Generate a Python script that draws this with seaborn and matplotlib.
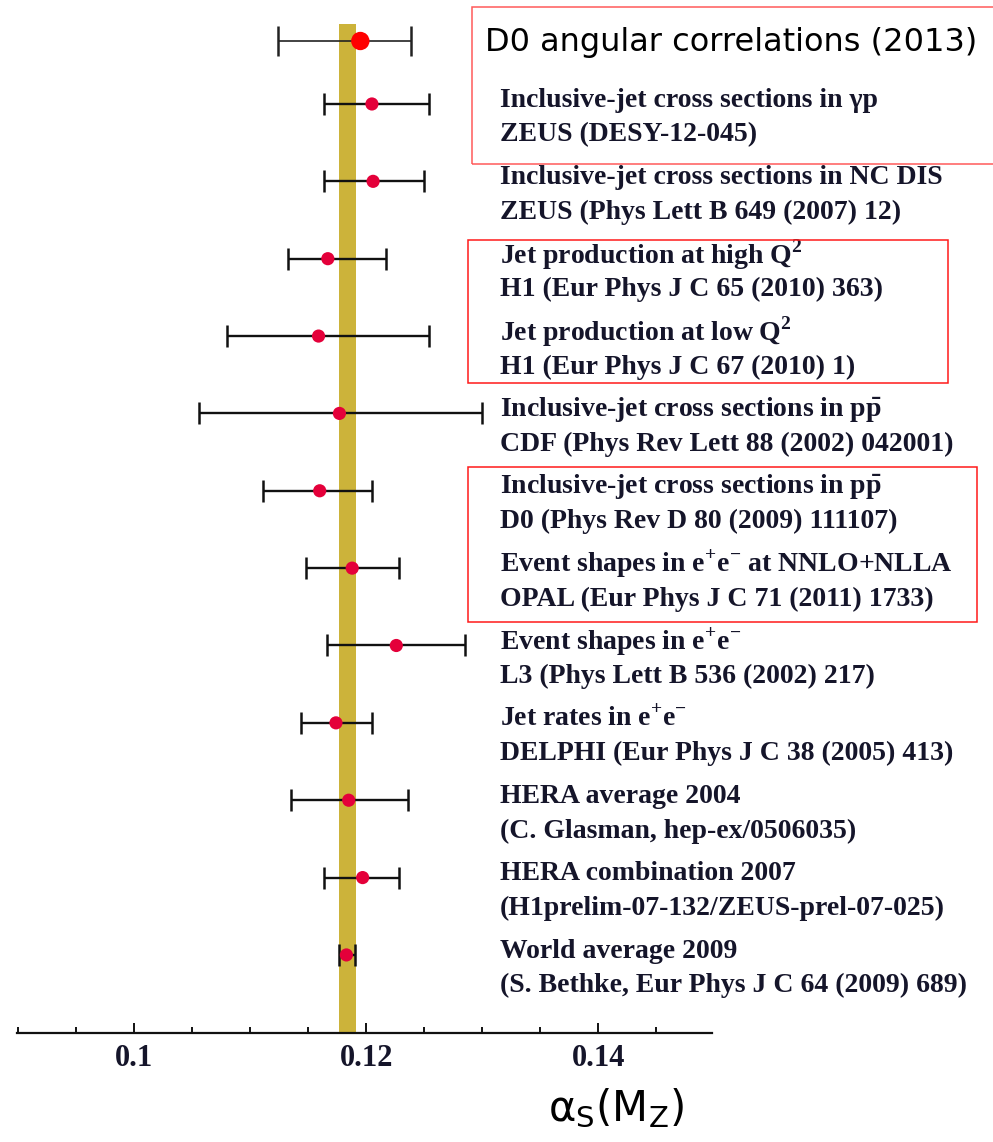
import matplotlib
matplotlib.use("Agg")
import matplotlib.pyplot as plt
from matplotlib.patches import Rectangle
from matplotlib.ticker import FixedLocator, MultipleLocator
import seaborn as sns
import pandas as pd

# ---------------- data ----------------
d0_value = 0.1195
d0_err_lo = 0.0071
d0_err_hi = 0.0044
d0_label = "D0 angular correlations (2013)"

values = [0.1205, 0.1206, 0.1167, 0.1159, 0.1177, 0.1160, 0.1188, 0.1226, 0.1174, 0.1185, 0.1197, 0.1183]
err_lo = [0.0041, 0.0042, 0.0034, 0.0079, 0.0121, 0.0049, 0.0040, 0.0060, 0.0030, 0.0050, 0.0033, 0.0006]
err_hi = [0.0049, 0.0044, 0.0050, 0.0095, 0.0123, 0.0045, 0.0040, 0.0059, 0.0031, 0.0051, 0.0031, 0.0007]
titles = [
    r"Inclusive-jet cross sections in γp",
    r"Inclusive-jet cross sections in NC DIS",
    r"Jet production at high Q$^{\mathregular{2}}$",
    r"Jet production at low Q$^{\mathregular{2}}$",
    r"Inclusive-jet cross sections in p$\bar{\mathregular{p}}$",
    r"Inclusive-jet cross sections in p$\bar{\mathregular{p}}$",
    r"Event shapes in e$^{\mathregular{+}}$e$^{\mathregular{-}}$ at NNLO+NLLA",
    r"Event shapes in e$^{\mathregular{+}}$e$^{\mathregular{-}}$",
    r"Jet rates in e$^{\mathregular{+}}$e$^{\mathregular{-}}$",
    "HERA average 2004",
    "HERA combination 2007",
    "World average 2009",
]
refs = [
    "ZEUS (DESY-12-045)",
    "ZEUS (Phys Lett B 649 (2007) 12)",
    "H1 (Eur Phys J C 65 (2010) 363)",
    "H1 (Eur Phys J C 67 (2010) 1)",
    "CDF (Phys Rev Lett 88 (2002) 042001)",
    "D0 (Phys Rev D 80 (2009) 111107)",
    "OPAL (Eur Phys J C 71 (2011) 1733)",
    "L3 (Phys Lett B 536 (2002) 217)",
    "DELPHI (Eur Phys J C 38 (2005) 413)",
    "(C. Glasman, hep-ex/0506035)",
    "(H1prelim-07-132/ZEUS-prel-07-025)",
    "(S. Bethke, Eur Phys J C 64 (2009) 689)",
]
world_avg = 0.1184
world_avg_err = 0.00075
major_ticks = [0.10, 0.12, 0.14]
major_labels = ["0.1", "0.12", "0.14"]
xlabel_text = r"α$_{\mathregular{S}}$(M$_{\mathregular{Z}}$)"

# ---------------- figure ----------------
sns.set_style("white")
plt.rcParams["font.family"] = ["DejaVu Sans"]

W, H = 993, 1142
fig = plt.figure(figsize=(W / 100, H / 100), dpi=100)
ax = fig.add_axes([17 / W, (H - 1033) / H, 695 / W, 1033 / H])

rows = list(range(1, len(values) + 1))
d0_row = 0.186
df = pd.DataFrame({"value": values, "row": rows})

ax.set_xlim(0.08991, 0.14981)
ax.set_ylim(13.009, -0.344)

# world-average band
ax.axvspan(world_avg - world_avg_err, world_avg + world_avg_err,
           ymin=0, ymax=1 - 24 / 1033, color="#ccb33a", lw=0, zorder=1)

# error bars
ax.errorbar(values, rows, xerr=[err_lo, err_hi], fmt="none", ecolor="#111111",
            elinewidth=1.7, capsize=8, capthick=1.8, zorder=2)
ax.errorbar([d0_value], [d0_row], xerr=[[d0_err_lo], [d0_err_hi]], fmt="none",
            ecolor="#222222", elinewidth=1.2, capsize=11, capthick=1.8, zorder=2)

sns.scatterplot(data=df, x="value", y="row", ax=ax, color="#e4003a", s=90,
                edgecolor="none", zorder=3, legend=False)
sns.scatterplot(x=[d0_value], y=[d0_row], ax=ax, color="#ff0000", s=175,
                edgecolor="none", zorder=3, legend=False)

# labels
xt = 0.1 + (500 - 134) / 11600
serif = dict(family="Liberation Serif", weight="bold", size=20, color="#15152a")
for r, t, rf in zip(rows, titles, refs):
    ax.text(xt, r - 0.05, t, va="center", ha="left", clip_on=False, **serif)
    ax.text(xt, r + 0.40, rf, va="center", ha="left", clip_on=False, **serif)

ax.text(0.1 + (485 - 134) / 11600, 0.211, d0_label, va="center", ha="left",
        fontsize=23, family="DejaVu Sans", color="black", clip_on=False)

# axis styling
for s in ["top", "left", "right"]:
    ax.spines[s].set_visible(False)
ax.spines["bottom"].set_linewidth(1.6)
ax.spines["bottom"].set_color("#111111")
ax.set_yticks([])
ax.set_ylabel("")
ax.set_xlabel("")
ax.xaxis.set_major_locator(FixedLocator(major_ticks))
ax.set_xticklabels(major_labels)
ax.xaxis.set_minor_locator(MultipleLocator(0.005))
ax.tick_params(axis="x", which="major", direction="in", length=7, width=1.4,
               color="#111111", pad=8, bottom=True)
ax.tick_params(axis="x", which="minor", direction="in", length=4, width=1.4,
               color="#111111", bottom=True)
for lab in ax.get_xticklabels():
    lab.set_family("Liberation Serif")
    lab.set_weight("bold")
    lab.set_fontsize(22)
    lab.set_color("#15152a")

fig.text(616 / W, 1 - 1108 / H, xlabel_text, ha="center", va="center",
         fontsize=30, family="DejaVu Sans", color="black")

# red highlight boxes
for (x0, y0, x1, y1, c) in [(472, 7, 995, 164, "#ff5a5a"),
                            (468, 240, 948, 383, "#ff1a1a"),
                            (468, 467, 977, 622, "#ff1a1a")]:
    fig.add_artist(Rectangle((x0 / W, 1 - y1 / H), (x1 - x0) / W, (y1 - y0) / H,
                             transform=fig.transFigure, fill=False, ec=c, lw=1.1))

fig.savefig("out.png", dpi=100)
